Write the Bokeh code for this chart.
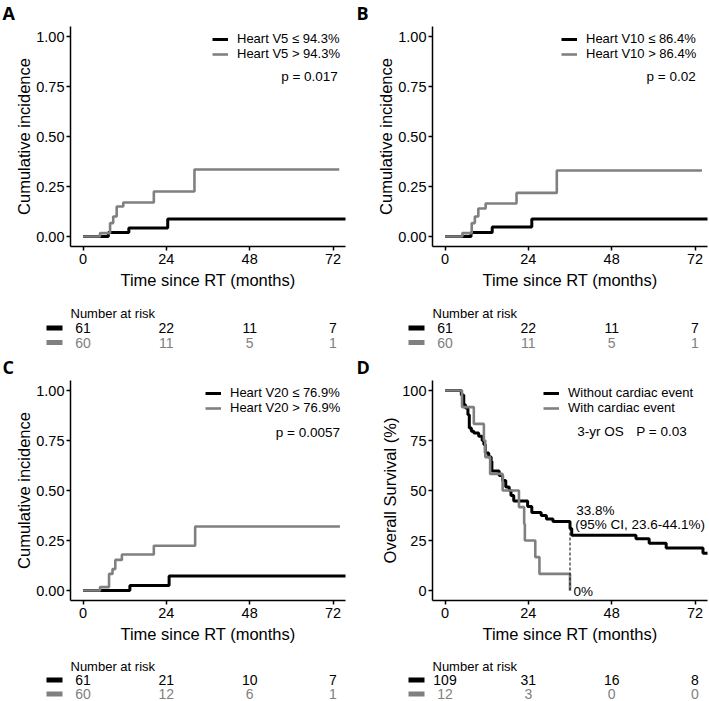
from bokeh.plotting import figure
from bokeh.models import (Range1d, Label, Legend, LegendItem, FixedTicker,
                          PrintfTickFormatter, Title)
from bokeh.layouts import column, row
from bokeh.embed import file_html
from bokeh.resources import INLINE
from bokeh.core.properties import value

# ---------------- data ----------------
RISK_TIMES = [0, 24, 48, 72]
X_TICKS = [0, 24, 48, 72]

A_LABELS = ["Heart V5 \u2264 94.3%", "Heart V5 > 94.3%"]
A_low_t = [0, 7.3, 13.2, 24.4, 76.0]
A_low_v = [0, 0.020, 0.042, 0.088, 0.088]
A_high_t = [0, 4.9, 7.8, 8.7, 9.7, 11.6, 20.4, 32.1, 73.8]
A_high_v = [0, 0.017, 0.067, 0.100, 0.150, 0.170, 0.225, 0.335, 0.335]
A_P = "p = 0.017"
A_risk_low = [61, 22, 11, 7]
A_risk_high = [60, 11, 5, 1]

B_LABELS = ["Heart V10 \u2264 86.4%", "Heart V10 > 86.4%"]
B_low_t = [0, 7.5, 13.6, 25.0, 76.0]
B_low_v = [0, 0.020, 0.047, 0.088, 0.088]
B_high_t = [0, 5.0, 7.7, 8.6, 9.6, 11.7, 20.6, 32.2, 74.0]
B_high_v = [0, 0.017, 0.067, 0.100, 0.140, 0.165, 0.218, 0.330, 0.330]
B_P = "p = 0.02"
B_risk_low = [61, 22, 11, 7]
B_risk_high = [60, 11, 5, 1]

C_LABELS = ["Heart V20 \u2264 76.9%", "Heart V20 > 76.9%"]
C_low_t = [0, 13.5, 24.8, 76.0]
C_low_v = [0, 0.025, 0.072, 0.072]
C_high_t = [0, 4.9, 7.5, 8.5, 9.3, 11.2, 20.4, 32.3, 74.0]
C_high_v = [0, 0.017, 0.083, 0.107, 0.153, 0.180, 0.224, 0.320, 0.320]
C_P = "p = 0.0057"
C_risk_low = [61, 21, 10, 7]
C_risk_high = [60, 12, 6, 1]

D_LABELS = ["Without cardiac event", "With cardiac event"]
D_without_t = [0, 4.7, 5.4, 5.9, 6.6, 7.0, 7.6, 8.3, 9.7, 10.7, 11.2, 11.6, 12.6,
               13.3, 13.5, 15.6, 16.6, 17.5, 18.5, 19.0, 19.8, 23.8, 25.0, 27.7,
               29.2, 31.1, 36.0, 36.5, 55.0, 58.8, 63.7, 74.3, 76.0]
D_without_v = [100, 97.8, 92.9, 91.2, 87.9, 81.3, 79.6, 78.8, 77.1, 75.0, 73.0,
               68.8, 66.7, 64.7, 59.7, 57.5, 55.0, 51.7, 50.0, 47.5, 44.8, 42.0,
               39.0, 37.5, 35.7, 34.5, 31.0, 27.6, 25.9, 23.6, 21.3, 18.6, 18.6]
D_with_t = [0, 4.9, 8.3, 11.2, 11.6, 13.0, 16.6, 21.3, 22.8, 23.0, 26.0, 27.2, 36.0]
D_with_v = [100, 91.7, 83.3, 75.0, 66.7, 58.3, 50.0, 41.7, 33.3, 25.0, 16.7, 8.3, 0]
D_OS3_TIME = 36
D_OS3_VALUE = 33.8
D_OS3_TEXT = "33.8%"
D_CI_TEXT = "(95% CI, 23.6-44.1%)"
D_ZERO_TEXT = "0%"
D_HEAD_TEXT = "3-yr OS"
D_P = "P = 0.03"
D_risk_without = [109, 31, 16, 8]
D_risk_with = [12, 3, 0, 0]

# ---------------- style / layout ----------------
FONT = "Liberation Sans"
BLACK = "#000000"
GREY = "#808080"
XR = (-3.6, 75.6)
COL_W = (354, 354)
LEFT = (70, 78)
FRAME_W = 275
FRAME_TOP = 25
FRAME_H = 221
MAIN_BOTTOM = 50
PANEL_H = (354, 347)
RISK_Y = ((17, 31.5, 46), (16, 29.5, 43.5))
PPM = FRAME_W / (XR[1] - XR[0])


def style_axis(ax, label_standoff, title_standoff):
    ax.axis_line_width = 1.5
    ax.axis_line_color = BLACK
    ax.major_tick_line_width = 1.5
    ax.major_tick_line_color = BLACK
    ax.major_tick_out = 4
    ax.major_tick_in = 0
    ax.minor_tick_line_color = None
    ax.major_label_text_font = FONT
    ax.major_label_text_font_size = "14.5px"
    ax.major_label_text_color = BLACK
    ax.major_label_standoff = label_standoff
    ax.axis_label_text_font = FONT
    ax.axis_label_text_font_size = "16.5px"
    ax.axis_label_text_font_style = "normal"
    ax.axis_label_text_color = BLACK
    ax.axis_label_standoff = title_standoff


def make_panel(letter, ylabel, yr, yticks, fmt, curves, labels, legend_xy,
               risk, col, prow):
    w = COL_W[col]
    left = LEFT[col]
    right = w - left - FRAME_W
    main_h = FRAME_TOP + FRAME_H + MAIN_BOTTOM
    title = Title(text=letter, align="left", offset=-(left - 2), standoff=0,
                  vertical_align="top", text_font="Open Sans",
                  text_font_style="bold", text_font_size="18px",
                  text_color=BLACK)
    p = figure(width=w, height=main_h, x_range=Range1d(*XR), y_range=Range1d(*yr),
               output_backend="svg", toolbar_location=None, title=title,
               min_border_left=left, min_border_right=right,
               min_border_top=FRAME_TOP, min_border_bottom=MAIN_BOTTOM)
    p.frame_align = False
    p.outline_line_color = None
    p.xgrid.visible = False
    p.ygrid.visible = False
    p.xaxis.ticker = FixedTicker(ticks=X_TICKS)
    p.yaxis.ticker = FixedTicker(ticks=yticks)
    p.yaxis.formatter = PrintfTickFormatter(format=fmt)
    p.xaxis.axis_label = "Time since RT (months)"
    p.yaxis.axis_label = ylabel
    style_axis(p.xaxis[0], 3, 4)
    style_axis(p.yaxis[0], 2, 0)

    (t1, v1), (t2, v2) = curves
    r1 = p.step(t1, v1, mode="after", line_color=BLACK, line_width=3)
    r2 = p.step(t2, v2, mode="after", line_color=GREY, line_width=2.6)
    leg = Legend(items=[LegendItem(label=labels[0], renderers=[r1]),
                        LegendItem(label=labels[1], renderers=[r2])],
                 location=legend_xy, margin=0, padding=0,
                 spacing=0, glyph_width=16, glyph_height=10, label_height=10,
                 label_standoff=9, label_text_font=FONT,
                 label_text_font_size="13px", label_text_line_height=0.9,
                 label_text_color=BLACK,
                 border_line_color=None, background_fill_alpha=0)
    p.add_layout(leg)

    # risk table (its frame spans the whole panel width)
    rh = PANEL_H[prow] - main_h
    ty, y1, y2 = RISK_Y[prow]
    r = figure(width=w, height=rh,
               x_range=Range1d(XR[0] - left / PPM, XR[1] + right / PPM),
               y_range=Range1d(rh, 0), output_backend="svg",
               toolbar_location=None, title=None, min_border=0,
               min_border_left=0, min_border_right=0, min_border_top=0,
               min_border_bottom=0, x_axis_type=None, y_axis_type=None)
    r.frame_align = False
    r.outline_line_color = None
    r.xgrid.visible = False
    r.ygrid.visible = False
    r.text(x=[XR[0]], y=[ty], text=["Number at risk"], text_align="left",
           text_baseline="middle", text_font=value(FONT), text_font_size="13px",
           text_color=BLACK)
    for counts, yy, colr in ((risk[0], y1, BLACK), (risk[1], y2, GREY)):
        r.text(x=RISK_TIMES, y=[yy] * len(RISK_TIMES), text=[str(c) for c in counts],
               text_align="center", text_baseline="middle", text_font=value(FONT),
               text_font_size="14px", text_color=colr)
        r.segment(x0=[XR[0] - 24 / PPM], x1=[XR[0] - 8 / PPM], y0=[yy], y1=[yy],
                  line_color=colr, line_width=5, line_cap="butt")
    return p, r


def p_label(p, text, x, y):
    p.add_layout(Label(x=x, y=y, text=text, text_align="right",
                       text_baseline="middle", text_font=FONT,
                       text_font_size="13.5px", text_color=BLACK))


pA, rA = make_panel("A", "Cumulative incidence", (-0.05, 1.05),
                    [0, 0.25, 0.5, 0.75, 1.0], "%.2f",
                    [(A_low_t, A_low_v), (A_high_t, A_high_v)], A_LABELS, (142, 185),
                    (A_risk_low, A_risk_high), 0, 0)
p_label(pA, A_P, 73.4, 0.80)

pB, rB = make_panel("B", "Cumulative incidence", (-0.05, 1.05),
                    [0, 0.25, 0.5, 0.75, 1.0], "%.2f",
                    [(B_low_t, B_low_v), (B_high_t, B_high_v)], B_LABELS, (129, 185),
                    (B_risk_low, B_risk_high), 1, 0)
p_label(pB, B_P, 72.2, 0.80)

pC, rC = make_panel("C", "Cumulative incidence", (-0.05, 1.05),
                    [0, 0.25, 0.5, 0.75, 1.0], "%.2f",
                    [(C_low_t, C_low_v), (C_high_t, C_high_v)], C_LABELS, (135, 185),
                    (C_risk_low, C_risk_high), 0, 1)
p_label(pC, C_P, 74.0, 0.79)

pD, rD = make_panel("D", "Overall Survival (%)", (-5, 105),
                    [0, 25, 50, 75, 100], "%d",
                    [(D_without_t, D_without_v), (D_with_t, D_with_v)], D_LABELS,
                    (111, 185), (D_risk_without, D_risk_with), 1, 1)
pD.segment(x0=[D_OS3_TIME], y0=[0], x1=[D_OS3_TIME], y1=[D_OS3_VALUE],
           line_color=BLACK, line_width=1, line_dash="3 2")
for txt, xx, yy in ((D_HEAD_TEXT, 38.1, 79.5), (D_P, 55.1, 79.5),
                    (D_OS3_TEXT, 37.8, 39.8), (D_CI_TEXT, 37.5, 33.2),
                    (D_ZERO_TEXT, 37.0, -0.5)):
    pD.add_layout(Label(x=xx, y=yy, text=txt, text_align="left",
                        text_baseline="middle", text_font=FONT,
                        text_font_size="13.5px", text_color=BLACK))

layout = column(row(column(pA, rA), column(pB, rB)),
                row(column(pC, rC), column(pD, rD)))

open("out.html", "w").write(file_html(layout, INLINE))
